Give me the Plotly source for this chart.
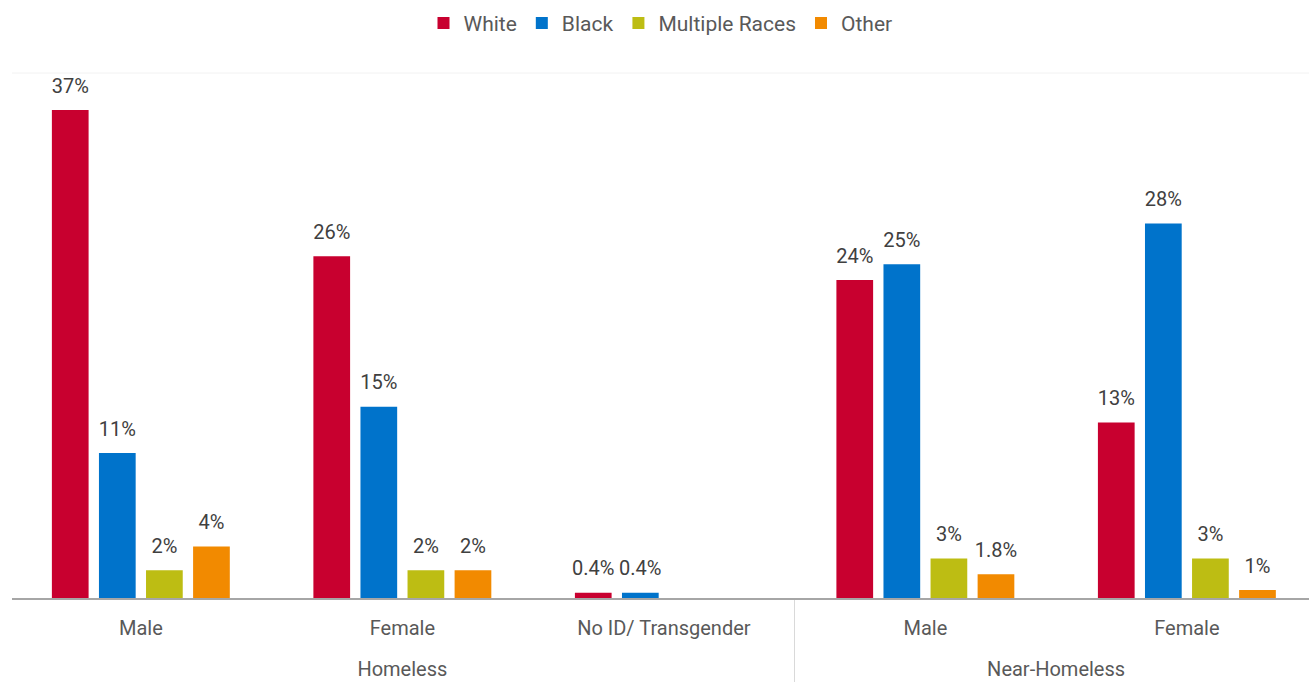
import plotly.graph_objects as go

groups = ["Homeless", "Homeless", "Homeless", "Near-Homeless", "Near-Homeless"]
subcats = ["Male", "Female", "No ID/ Transgender", "Male", "Female"]

white = [37.0, 25.9, 0.4, 24.1, 13.3]
black = [11.0, 14.5, 0.4, 25.3, 28.4]
multi = [2.1, 2.1, None, 3.0, 3.0]
other = [3.9, 2.1, None, 1.8, 0.6]

white_lbl = ["37%", "26%", "0.4%", "24%", "13%"]
black_lbl = ["11%", "15%", "0.4%", "25%", "28%"]
multi_lbl = ["2%", "2%", "", "3%", "3%"]
other_lbl = ["4%", "2%", "", "1.8%", "1%"]

series = [
    ("White", white, white_lbl, "#C8002F"),
    ("Black", black, black_lbl, "#0073CB"),
    ("Multiple Races", multi, multi_lbl, "#BDBD13"),
    ("Other", other, other_lbl, "#F28A00"),
]

# extra blank line under the first-level labels widens the gap to the group row
sub_disp = [s + "<br>\u00a0" for s in subcats]

FONT = "Roboto"
fig = go.Figure()
for name, vals, lbls, col in series:
    fig.add_trace(go.Bar(
        name=name, x=[groups, sub_disp], y=vals,
        marker=dict(color=col, line=dict(width=0)),
        hoverinfo="skip",
    ))
# value labels: grouped text points sitting a little above each bar
for name, vals, lbls, col in series:
    fig.add_trace(go.Scatter(
        name=name, x=[groups, sub_disp], y=vals, text=lbls,
        mode="markers+text", textposition="top center", cliponaxis=False,
        marker=dict(size=18, opacity=0, color=col),
        textfont=dict(family=FONT, size=20, color="#404040"),
        showlegend=False, hoverinfo="skip",
    ))

fig.update_layout(
    width=1309, height=683,
    margin=dict(l=12, r=0, t=73, b=85),
    paper_bgcolor="white", plot_bgcolor="white",
    barmode="group", bargap=0.28, bargroupgap=0.22,
    scattermode="group", scattergap=0.28,
    font=dict(family=FONT, color="#595959", size=20),
    legend=dict(orientation="h", x=0.5, xanchor="center", y=0.996, yanchor="top",
                yref="container", font=dict(size=21, color="#595959"),
                itemwidth=30, traceorder="normal"),
    xaxis=dict(type="multicategory", range=[-0.4927, 4.467], showline=True,
               linecolor="#a6a6a6", linewidth=2, showdividers=True,
               dividercolor="#d9d9d9", dividerwidth=1, ticks="",
               ticklabelstandoff=11,
               tickfont=dict(size=20, color="#595959")),
    yaxis=dict(range=[0, 39.8], showgrid=False, showticklabels=False,
               zeroline=False, showline=False),
    shapes=[dict(type="line", xref="paper", yref="paper", x0=0, x1=1, y0=1, y1=1,
                 line=dict(color="#f2f2f2", width=1))],
)

fig.write_html("out.html")
